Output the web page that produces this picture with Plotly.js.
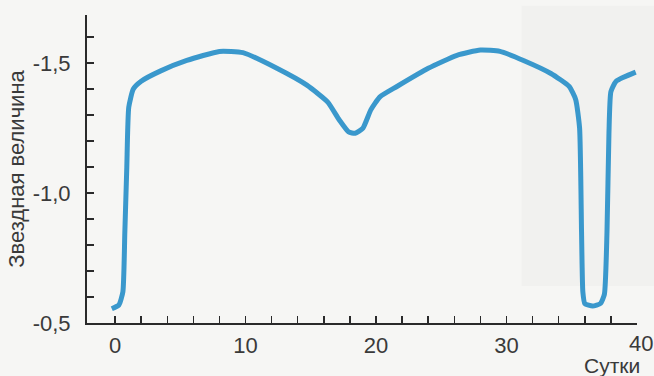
<!DOCTYPE html>
<html>
<head>
<meta charset="utf-8">
<script src="https://cdn.plot.ly/plotly-3.0.1.min.js"></script>
<style>
  html, body { margin: 0; padding: 0; background: #f6f6f4; }
  #chart { width: 654px; height: 376px; }
</style>
</head>
<body>
<div id="chart"></div>
<script>
// Light curve: days vs stellar magnitude
const days = [-0.25, 0.3, 0.6, 0.75, 0.9, 1.05, 1.4, 2.0, 3.5, 5.5, 8.0, 9.8, 12.4, 14.7, 16.3, 17.2, 17.9, 18.4, 19.0, 19.6, 20.3, 21.6, 24.0, 26.2, 28.0, 29.5, 31.3, 33.4, 34.8, 35.3, 35.6, 35.75, 35.85, 36.0, 36.6, 37.2, 37.5, 37.7, 37.85, 38.0, 38.4, 39.9];
const magnitude = [-0.555, -0.57, -0.62, -0.85, -1.10, -1.33, -1.40, -1.43, -1.47, -1.51, -1.545, -1.54, -1.48, -1.415, -1.35, -1.28, -1.235, -1.23, -1.25, -1.32, -1.37, -1.41, -1.48, -1.53, -1.55, -1.545, -1.51, -1.46, -1.41, -1.36, -1.25, -0.85, -0.62, -0.575, -0.565, -0.575, -0.61, -0.85, -1.23, -1.39, -1.43, -1.465];

const xTickVals = [0, 2, 4, 6, 8, 10, 12, 14, 16, 18, 20, 22, 24, 26, 28, 30, 32, 34, 36, 38];
const xTickText = ['0', '', '', '', '', '10', '', '', '', '', '20', '', '', '', '', '30', '', '', '', ''];
const xLastLabel = '40';
const yTickVals = [-1.6, -1.5, -1.4, -1.3, -1.2, -1.1, -1.0, -0.9, -0.8, -0.7, -0.6, -0.5];
const yTickText = ['', '-1,5', '', '', '', '', '-1,0', '', '', '', '', '-0,5'];
const yTitle = 'Звездная величина';
const xTitle = 'Сутки';

const textColor = '#3a3a3a';
const fontFam = 'Liberation Sans, Arial, sans-serif';

const trace = {
  x: days, y: magnitude, type: 'scatter', mode: 'lines',
  line: { color: '#3a98cc', width: 5, shape: 'spline', smoothing: 0.5 },
  hoverinfo: 'skip'
};

const layout = {
  width: 654, height: 376,
  margin: { l: 87, r: 17, t: 15, b: 53 },
  paper_bgcolor: '#f6f6f4',
  plot_bgcolor: 'rgba(0,0,0,0)',
  showlegend: false,
  font: { family: fontFam, size: 20, color: textColor },
  xaxis: {
    range: [-2.15, 40], showgrid: false, zeroline: false,
    showline: true, linecolor: '#2a2a2a', linewidth: 2,
    tickmode: 'array', tickvals: xTickVals, ticktext: xTickText,
    ticks: 'inside', ticklen: 7, tickwidth: 1.5, tickcolor: '#2a2a2a',
    tickfont: { family: fontFam, size: 22, color: textColor },
    ticklabelstandoff: 2
  },
  yaxis: {
    range: [-0.5, -1.685], showgrid: false, zeroline: false,
    showline: true, linecolor: '#2a2a2a', linewidth: 2,
    tickmode: 'array', tickvals: yTickVals, ticktext: yTickText,
    ticks: 'inside', ticklen: 7, tickwidth: 1.5, tickcolor: '#2a2a2a',
    tickfont: { family: fontFam, size: 22, color: textColor },
    ticklabelstandoff: 10,
    title: { text: yTitle, font: { family: fontFam, size: 22, color: textColor }, standoff: 2 }
  },
  annotations: [
    { x: 40, y: 0, xref: 'x', yref: 'paper', text: xLastLabel, showarrow: false,
      xanchor: 'center', yanchor: 'top', yshift: -6, xshift: 4,
      font: { family: fontFam, size: 22, color: textColor } },
    { x: 1.0, y: -0.0, xref: 'paper', yref: 'paper', text: xTitle, showarrow: false,
      xanchor: 'right', yanchor: 'top', yshift: -29, xshift: 5,
      font: { family: fontFam, size: 21, color: textColor } }
  ],
  shapes: [
    { type: 'rect', xref: 'paper', yref: 'paper', x0: 0.79, x1: 1.04, y0: 0.12, y1: 1.03,
      fillcolor: 'rgba(120,120,120,0.035)', line: { width: 0 }, layer: 'below' }
  ]
};

Plotly.newPlot('chart', [trace], layout, { displayModeBar: false, staticPlot: true });
</script>
</body>
</html>
